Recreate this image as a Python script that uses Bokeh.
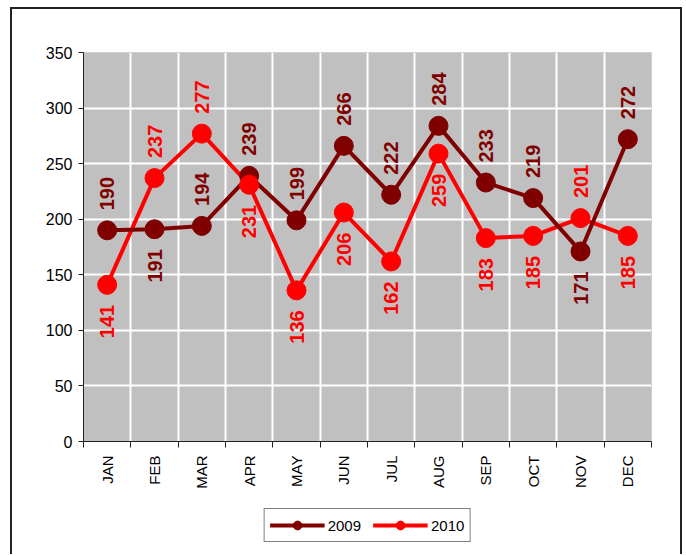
import math
from bokeh.plotting import figure
from bokeh.layouts import column
from bokeh.models import (ColumnDataSource, FixedTicker, Legend, LegendItem, Range1d)
from bokeh.core.properties import value
from bokeh.embed import file_html
from bokeh.resources import INLINE

months = ["JAN", "FEB", "MAR", "APR", "MAY", "JUN", "JUL", "AUG", "SEP", "OCT", "NOV", "DEC"]
sales_2009 = [190, 191, 194, 239, 199, 266, 222, 284, 233, 219, 171, 272]
sales_2010 = [141, 237, 277, 231, 136, 206, 162, 259, 183, 185, 201, 185]
label_side_2009 = ["above", "below", "above", "above", "above", "above", "above", "above", "above", "above", "below", "above"]
label_side_2010 = ["below", "above", "above", "below", "below", "below", "below", "below", "below", "below", "above", "below"]
y_ticks = [0, 50, 100, 150, 200, 250, 300, 350]
series_names = ["2009", "2010"]

FONT = "Liberation Sans"
C2009 = "#800000"
C2010 = "#FF0000"

x_pos = [i + 0.5 for i in range(len(months))]
boundaries = list(range(len(months) + 1))

p = figure(width=668, height=490, output_backend="svg", toolbar_location=None,
           x_range=Range1d(0, len(months)), y_range=Range1d(0, 350),
           min_border_left=71, min_border_top=43, min_border_right=29, min_border_bottom=58)
p.background_fill_color = "#C0C0C0"
p.border_fill_color = "white"
p.outline_line_color = "#D0D0D0"
p.outline_line_width = 1

# grids
p.xgrid.ticker = FixedTicker(ticks=boundaries)
p.xgrid.grid_line_color = "white"
p.xgrid.grid_line_width = 2
p.ygrid.ticker = FixedTicker(ticks=y_ticks)
p.ygrid.grid_line_color = "white"
p.ygrid.grid_line_width = 2

# x axis
xa = p.xaxis[0]
xa.ticker = FixedTicker(ticks=x_pos, minor_ticks=boundaries)
xa.major_label_overrides = {x: m for x, m in zip(x_pos, months)}
xa.major_label_orientation = math.pi / 2
xa.major_tick_out = 0
xa.major_tick_in = 0
xa.minor_tick_out = 6
xa.minor_tick_in = 0
xa.minor_tick_line_color = "#222222"
xa.axis_line_color = "#222222"
xa.major_label_text_font = FONT
xa.major_label_text_font_size = "15px"
xa.major_label_text_color = "black"
xa.major_label_standoff = 8

# y axis
ya = p.yaxis[0]
ya.ticker = FixedTicker(ticks=y_ticks)
ya.major_tick_out = 5
ya.major_tick_in = 0
ya.minor_tick_out = 0
ya.minor_tick_in = 0
ya.axis_line_color = "#222222"
ya.major_tick_line_color = "#222222"
ya.major_label_text_font = FONT
ya.major_label_text_font_size = "16px"
ya.major_label_text_color = "black"
ya.major_label_standoff = 6

def label_cols(sides):
    align = ["left" if s == "above" else "right" for s in sides]
    yoff = [-20 if s == "above" else 20 for s in sides]
    return align, yoff

a09, o09 = label_cols(label_side_2009)
a10, o10 = label_cols(label_side_2010)
src09 = ColumnDataSource(dict(x=x_pos, y=sales_2009, t=[str(v) for v in sales_2009], align=a09, yoff=o09))
src10 = ColumnDataSource(dict(x=x_pos, y=sales_2010, t=[str(v) for v in sales_2010], align=a10, yoff=o10))

p.line("x", "y", source=src10, line_color=C2010, line_width=4)
p.line("x", "y", source=src09, line_color=C2009, line_width=4)
p.scatter("x", "y", source=src09, size=19, fill_color=C2009, line_color=C2009)
p.scatter("x", "y", source=src10, size=19, fill_color=C2010, line_color=C2010)

for src, col in ((src09, C2009), (src10, C2010)):
    p.text("x", "y", text="t", source=src, angle=math.pi / 2, text_align="align",
           text_baseline="middle", y_offset="yoff", text_color=col,
           text_font=value(FONT), text_font_size="20px", text_font_style="bold")

# legend strip (separate small figure below the chart)
lg = figure(width=668, height=55, output_backend="svg", toolbar_location=None,
            x_range=Range1d(0, 1), y_range=Range1d(0, 1),
            x_axis_location=None, y_axis_location=None,
            min_border_left=40, min_border_right=0, min_border_top=0, min_border_bottom=0)
lg.grid.visible = False
lg.outline_line_color = None
lg.background_fill_color = "white"
lg.border_fill_color = "white"
items = []
for name, col in zip(series_names, (C2009, C2010)):
    offscreen = ColumnDataSource(dict(x=[-10, -9], y=[-10, -10]))
    r1 = lg.line("x", "y", source=offscreen, line_color=col, line_width=4)
    r2 = lg.scatter("x", "y", source=offscreen, size=11, fill_color=col, line_color=col)
    items.append(LegendItem(label=name, renderers=[r1, r2]))

legend = Legend(items=items, location="top_center", orientation="horizontal",
                border_line_color="black", border_line_width=1,
                background_fill_color="white", background_fill_alpha=1,
                label_text_font=FONT, label_text_font_size="15px", label_text_color="black",
                glyph_width=55, glyph_height=22, padding=5, spacing=12,
                label_standoff=3, margin=9)
lg.add_layout(legend, "center")

layout = column(p, lg, spacing=0)
layout.margin = (7, 0, 0, 10)
layout.styles = {"border-top": "2px solid #222", "border-left": "2px solid #222",
                 "border-right": "2px solid #222"}

open("out.html", "w").write(file_html(layout, INLINE))
